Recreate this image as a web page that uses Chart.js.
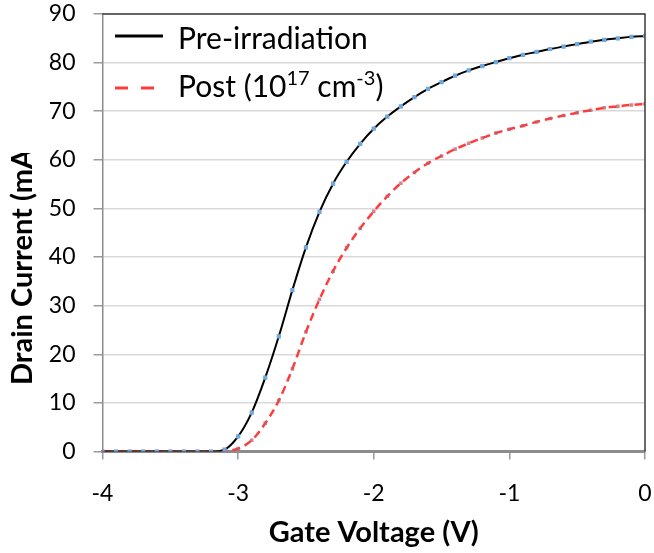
<!DOCTYPE html>
<html>
<head>
<meta charset="utf-8">
<script src="https://cdn.jsdelivr.net/npm/chart.js@4.4.1/dist/chart.umd.min.js"></script>
<style>
  body { margin: 0; background: #fff; }
  #wrap { width: 654px; height: 553px; }
</style>
</head>
<body>
<div id="wrap"><canvas id="myChart"></canvas></div>
<script>
// gate voltage (V), 0.1 V steps
const voltage = [-4.0, -3.9, -3.8, -3.7, -3.6, -3.5, -3.4, -3.3, -3.2, -3.1,
  -3.0, -2.9, -2.8, -2.7, -2.6, -2.5, -2.4, -2.3, -2.2, -2.1,
  -2.0, -1.9, -1.8, -1.7, -1.6, -1.5, -1.4, -1.3, -1.2, -1.1,
  -1.0, -0.9, -0.8, -0.7, -0.6, -0.5, -0.4, -0.3, -0.2, -0.1, 0.0]

// drain current (mA)
const preIrradiation = [0, 0, 0, 0, 0, 0, 0, 0, 0, 0.4,
  3.1, 8.0, 15.2, 23.7, 33.2, 42.0, 49.3, 55.1, 59.6, 63.3,
  66.4, 68.9, 71.0, 72.9, 74.6, 76.0, 77.3, 78.4, 79.3, 80.1,
  80.9, 81.6, 82.2, 82.8, 83.3, 83.8, 84.3, 84.7, 85.0, 85.3, 85.5]

const postIrradiation = [0, 0, 0, 0, 0, 0, 0, 0, 0, 0.1,
  0.6, 2.3, 5.8, 10.5, 17.0, 24.6, 31.3, 37.1, 41.9, 45.9,
  49.4, 52.5, 55.2, 57.4, 59.3, 60.8, 62.2, 63.4, 64.5, 65.5,
  66.3, 67.0, 67.8, 68.5, 69.1, 69.7, 70.2, 70.7, 71.0, 71.3, 71.5]

const xTicks = [-4, -3, -2, -1, 0]
const yTicks = [0, 10, 20, 30, 40, 50, 60, 70, 80, 90]

const xTitle = 'Gate Voltage (V)'
const yTitle = 'Drain Current (mA)'
// legend text, post label split so the exponents can be raised
const legendPre = 'Pre-irradiation'
const legendPost = [['Post (10', false], ['17', true], [' cm', false], ['-3', true], [')', false]]

const FONT = 'Lato, "Open Sans", sans-serif'

function toPoints(ys) {
  return voltage.map(function (v, i) { return { x: v, y: ys[i] } })
}

// titles, legend and the dark frame on top/right
const extras = {
  id: 'extras',
  afterDraw(chart) {
    const c = chart.ctx
    const a = chart.chartArea
    c.save()

    // frame
    c.strokeStyle = '#3a3a3a'
    c.lineWidth = 1.5
    c.beginPath()
    c.moveTo(a.left, a.top)
    c.lineTo(a.right, a.top)
    c.lineTo(a.right, a.bottom)
    c.stroke()

    // x title
    c.fillStyle = '#000'
    c.font = 'bold 29px ' + FONT
    c.textAlign = 'center'
    c.textBaseline = 'middle'
    c.fillText(xTitle, (a.left + a.right) / 2, 533)

    // y title, cut off at the top like the source
    c.save()
    c.beginPath()
    c.rect(0, 153, 60, 400)
    c.clip()
    c.translate(23, 385)
    c.rotate(-Math.PI / 2)
    c.textAlign = 'left'
    c.fillText(yTitle, 0, 0)
    c.restore()

    // legend
    const ds = chart.data.datasets
    c.lineWidth = 3
    c.strokeStyle = ds[0].borderColor
    c.beginPath()
    c.moveTo(115, 36)
    c.lineTo(163, 36)
    c.stroke()

    c.strokeStyle = ds[1].borderColor
    c.setLineDash([13, 13])
    c.beginPath()
    c.moveTo(115, 88)
    c.lineTo(157, 88)
    c.stroke()
    c.setLineDash([])

    c.font = '30px ' + FONT
    c.textAlign = 'left'
    c.textBaseline = 'middle'
    c.fillText(legendPre, 178, 39)

    let x = 178
    legendPost.forEach(function (seg) {
      c.font = (seg[1] ? '20px ' : '30px ') + FONT
      c.fillText(seg[0], x, seg[1] ? 79 : 87)
      x += c.measureText(seg[0]).width
    })

    c.restore()
  }
}

var ctx = document.getElementById('myChart').getContext('2d')

var myChart = new Chart(ctx, {
  type: 'scatter',
  data: {
    datasets: [
      {
        label: legendPre,
        data: toPoints(preIrradiation),
        showLine: true,
        borderColor: '#000',
        borderWidth: 2,
        cubicInterpolationMode: 'monotone',
        pointStyle: 'rect',
        pointRadius: 3,
        pointBorderWidth: 0,
        pointBackgroundColor: '#6fa8dc'
      },
      {
        label: 'Post (10^17 cm^-3)',
        data: toPoints(postIrradiation),
        showLine: true,
        borderColor: '#ff3b3b',
        borderWidth: 2.5,
        borderDash: [8, 5],
        cubicInterpolationMode: 'monotone',
        pointStyle: 'rect',
        pointRadius: 2.5,
        pointBorderWidth: 0,
        pointBackgroundColor: 'rgba(200, 90, 100, 0.75)'
      }
    ]
  },
  options: {
    responsive: true,
    maintainAspectRatio: false,
    animation: false,
    layout: { padding: { top: 14, right: 9, left: 0, bottom: 0 } },
    plugins: { legend: { display: false }, tooltip: { enabled: false } },
    scales: {
      x: {
        type: 'linear',
        min: -4,
        max: 0,
        afterFit: function (s) {
          s.height = 101.5
          s.paddingLeft = 0
          s.paddingRight = 0
        },
        afterBuildTicks: function (s) { s.ticks = xTicks.map(function (v) { return { value: v } }) },
        ticks: { color: '#000', font: { family: FONT, size: 23 }, padding: 20 },
        grid: { drawOnChartArea: false, tickLength: 8, color: '#9a9a9a', lineWidth: 1.5 },
        border: { color: '#8c8c8c', width: 3 }
      },
      y: {
        min: 0,
        max: 90,
        afterFit: function (s) {
          s.width = 102.5
          s.paddingTop = 0
          s.paddingBottom = 0
        },
        afterBuildTicks: function (s) { s.ticks = yTicks.map(function (v) { return { value: v } }) },
        ticks: { color: '#000', font: { family: FONT, size: 23 }, padding: 18 },
        grid: { color: '#d9d9d9', lineWidth: 1.5, tickLength: 9, tickColor: '#9a9a9a' },
        border: { color: '#8c8c8c', width: 1.5 }
      }
    }
  },
  plugins: [extras]
})
</script>
</body>
</html>
